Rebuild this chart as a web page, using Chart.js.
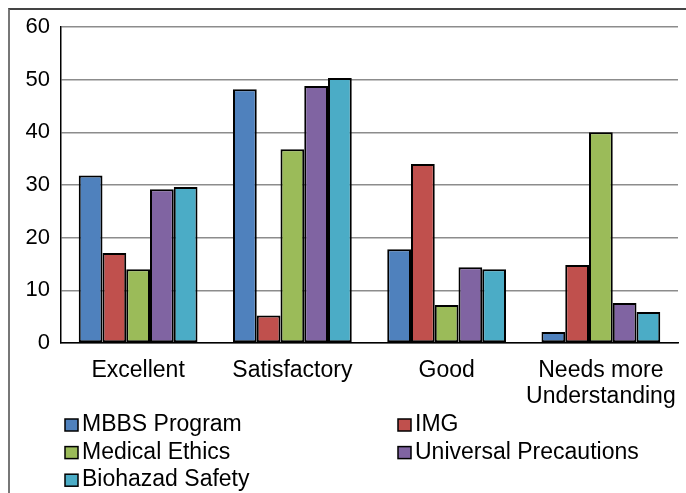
<!DOCTYPE html>
<html>
<head>
<meta charset="utf-8">
<script src="https://cdn.jsdelivr.net/npm/chart.js@4/dist/chart.umd.min.js"></script>
<style>
  html, body { margin: 0; padding: 0; background: #fff; overflow: hidden; }
  #frame {
    position: absolute; left: 8px; top: 8px;
    width: 720px; height: 520px;
    border-left: 2px solid #777; border-top: 2px solid #444;
  }
  #wrap { position: absolute; left: 0; top: 0; width: 686px; height: 493px; }
</style>
</head>
<body>
<div id="frame"></div>
<div id="wrap"><canvas id="myChart" width="686" height="493"></canvas></div>
<script>
// student feedback ratings per course module (%)

const categories = ['Excellent', 'Satisfactory', 'Good', ['Needs more', 'Understanding']];

const mbbsProgram = [31.8, 48.2, 17.8, 2.1];
const img = [17.1, 5.2, 34.0, 14.8];
const medicalEthics = [14.0, 36.8, 7.2, 40.0];
const universalPrecautions = [29.2, 48.8, 14.4, 7.6];
const biohazadSafety = [29.6, 50.3, 14.0, 5.9];

const yTicks = [0, 10, 20, 30, 40, 50, 60];

const FONT = "'Liberation Sans', Arial, sans-serif";

function makeSet(label, data, color) {
  return {
    label: label,
    data: data,
    backgroundColor: color,
    borderColor: '#000',
    borderWidth: 2,
    borderSkipped: false,
    barPercentage: 1.0,
    categoryPercentage: 0.77
  };
}

// two-column legend under the axis
const columnLegend = {
  id: 'columnLegend',
  afterDraw(chart) {
    const c = chart.ctx;
    const colX = [65, 398];
    const firstBase = 431;
    const rowStep = 27.6;
    c.save();
    c.font = '23px ' + FONT;
    c.textBaseline = 'alphabetic';
    c.textAlign = 'left';
    chart.data.datasets.forEach((ds, i) => {
      const x = colX[i % 2];
      const base = firstBase + Math.floor(i / 2) * rowStep;
      c.fillStyle = ds.backgroundColor;
      c.fillRect(x, base - 12, 13, 12);
      c.strokeStyle = '#000';
      c.lineWidth = 1.5;
      c.strokeRect(x, base - 12, 13, 12);
      c.fillStyle = '#000';
      c.fillText(ds.label, x + 17, base);
    });
    c.restore();
  }
};

const ctx = document.getElementById('myChart').getContext('2d');

window.myChart = new Chart(ctx, {
  type: 'bar',
  data: {
    labels: categories,
    datasets: [
      makeSet('MBBS Program', mbbsProgram, '#4F81BD'),
      makeSet('IMG', img, '#C0504D'),
      makeSet('Medical Ethics', medicalEthics, '#9BBB59'),
      makeSet('Universal Precautions', universalPrecautions, '#8064A2'),
      makeSet('Biohazad Safety', biohazadSafety, '#4BACC6')
    ]
  },
  options: {
    responsive: false,
    animation: false,
    layout: { padding: { left: 0, right: 8, top: 27, bottom: 0 } },
    plugins: {
      legend: { display: false },
      tooltip: { enabled: false }
    },
    scales: {
      x: {
        grid: { display: false, drawTicks: false },
        border: { display: true, color: '#000', width: 1.5 },
        ticks: {
          color: '#000',
          padding: 15,
          maxRotation: 0,
          autoSkip: false,
          font: { family: FONT, size: 23, lineHeight: 1.13 }
        },
        afterFit(scale) {
          scale.height = 150;
          // last label may hang a little past the plot edge
          scale.paddingLeft = 0;
          scale.paddingRight = 0;
        }
      },
      y: {
        min: 0,
        max: 60,
        afterBuildTicks(scale) { scale.ticks = yTicks.map(v => ({ value: v })); },
        grid: { color: '#8c8c8c', lineWidth: 1.5, drawTicks: false },
        border: { display: true, color: '#000', width: 1.5 },
        ticks: {
          color: '#000',
          padding: 11,
          font: { family: FONT, size: 22 }
        },
        afterFit(scale) { scale.width = 61; }
      }
    }
  },
  plugins: [columnLegend]
});
</script>
</body>
</html>
